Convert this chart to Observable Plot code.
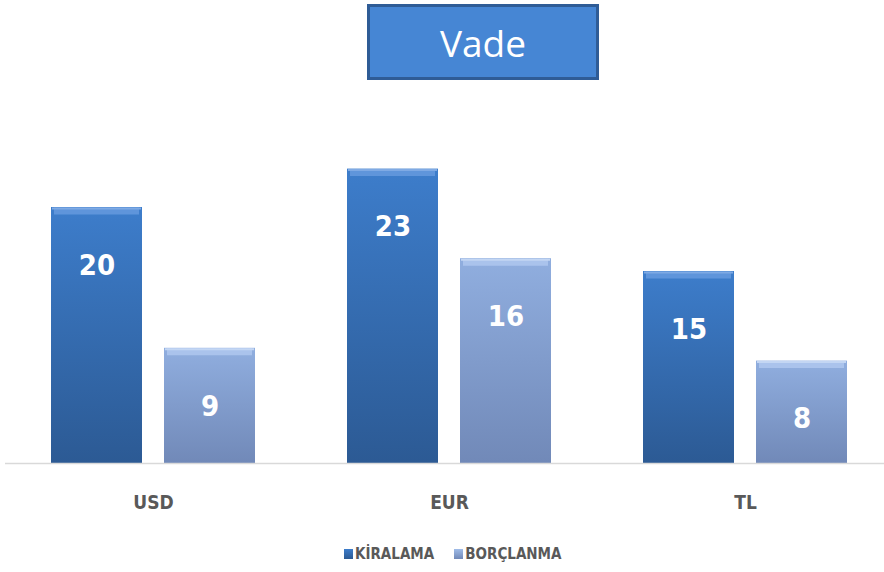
<!DOCTYPE html>
<html><head><meta charset="utf-8">
<script src="https://cdn.jsdelivr.net/npm/d3@7"></script>
<script src="https://cdn.jsdelivr.net/npm/@observablehq/plot@0.6"></script>
<style>
body{margin:0;background:#fff;}
#wrap{position:relative;width:884px;height:572px;overflow:hidden;}
#title{position:absolute;left:367px;top:4px;width:226px;height:70px;border:3px solid #2F5C96;background:#4686D4;color:#fff;font:37px "Open Sans",sans-serif;display:flex;align-items:center;justify-content:center;box-sizing:content-box;}
#chart{position:absolute;left:0;top:85px;}
#legend{position:absolute;top:545px;left:344px;display:flex;align-items:center;font-family:"DejaVu Sans Condensed","DejaVu Sans",sans-serif;font-stretch:condensed;font-weight:bold;font-size:15px;color:#595959;}
.sw{display:inline-block;width:9px;height:10px;margin-right:2px;}
</style></head>
<body>
<div id="wrap">
  <div id="title">Vade</div>
  <div id="chart"></div>
  <div id="legend"></div>
</div>
<script>
const groups = ["USD", "EUR", "TL"];
const series = ["KİRALAMA", "BORÇLANMA"];
const kiralama = [20, 23, 15];
const borclanma = [9, 16, 8];

const rows = [];
groups.forEach((g, i) => {
  rows.push({group: g, series: series[0], value: kiralama[i]});
  rows.push({group: g, series: series[1], value: borclanma[i]});
});
const isK = d => d.series === series[0];
const font = "'DejaVu Sans Condensed', 'DejaVu Sans', sans-serif";

const chart = Plot.plot({
  width: 884,
  height: 445,
  marginLeft: 0,
  marginRight: 0,
  marginTop: 58,
  marginBottom: 67,
  style: {fontFamily: font, fontStretch: "condensed", background: "transparent"},
  fx: {domain: groups, range: [5, 893], padding: 0, label: null},
  x: {domain: series, paddingInner: 0.193, paddingOuter: 0.395, axis: null},
  y: {domain: [0, 25], axis: null},
  marks: [
    Plot.barY(rows.filter(isK), {fx: "group", x: "series", y: "value", fill: "url(#gK)"}),
    Plot.barY(rows.filter(d => !isK(d)), {fx: "group", x: "series", y: "value", fill: "url(#gB)"}),
    Plot.tickY(rows.filter(isK), {fx: "group", x: "series", y: "value", stroke: "#5F95DB", strokeWidth: 7, dy: 3.5, insetLeft: 3, insetRight: 3}),
    Plot.tickY(rows.filter(isK), {fx: "group", x: "series", y: "value", stroke: "#7FAAE4", strokeWidth: 2, dy: 1, insetLeft: 1, insetRight: 1}),
    Plot.tickY(rows.filter(d => !isK(d)), {fx: "group", x: "series", y: "value", stroke: "#AAC3EC", strokeWidth: 7, dy: 3.5, insetLeft: 3, insetRight: 3}),
    Plot.tickY(rows.filter(d => !isK(d)), {fx: "group", x: "series", y: "value", stroke: "#C3D6F3", strokeWidth: 2, dy: 1, insetLeft: 1, insetRight: 1}),
    Plot.ruleY([0], {stroke: "#D9D9D9", strokeWidth: 1.5}),
    Plot.text(rows, {fx: "group", x: "series", y: "value", text: d => String(d.value), dy: 58,
      fill: "#fff", fontSize: 29, fontWeight: "bold", fontFamily: font}),
    Plot.axisFx({anchor: "bottom", tickSize: 0, tickPadding: 32, fontSize: 19, fontWeight: "bold", color: "#595959", label: null})
  ]
});

d3.select(chart).insert("defs", ":first-child").html(`
  <linearGradient id="gK" x1="0" y1="0" x2="0" y2="1">
    <stop offset="0" stop-color="#3D7DCB"/>
    <stop offset="1" stop-color="#2C5A94"/>
  </linearGradient>
  <linearGradient id="gB" x1="0" y1="0" x2="0" y2="1">
    <stop offset="0" stop-color="#90AEDF"/>
    <stop offset="1" stop-color="#7189B8"/>
  </linearGradient>`);

document.getElementById("chart").appendChild(chart);

const legend = document.getElementById("legend");
const swatchBg = ["linear-gradient(#3D7DCB,#2C5A94)", "linear-gradient(#A0BCE8,#7189B8)"];
series.forEach((s, i) => {
  const item = document.createElement("span");
  item.style.display = "flex";
  item.style.alignItems = "center";
  item.style.marginRight = i === 0 ? "20px" : "0";
  const sw = document.createElement("span");
  sw.className = "sw";
  sw.style.background = swatchBg[i];
  item.appendChild(sw);
  item.appendChild(document.createTextNode(s));
  legend.appendChild(item);
});
</script>
</body></html>
